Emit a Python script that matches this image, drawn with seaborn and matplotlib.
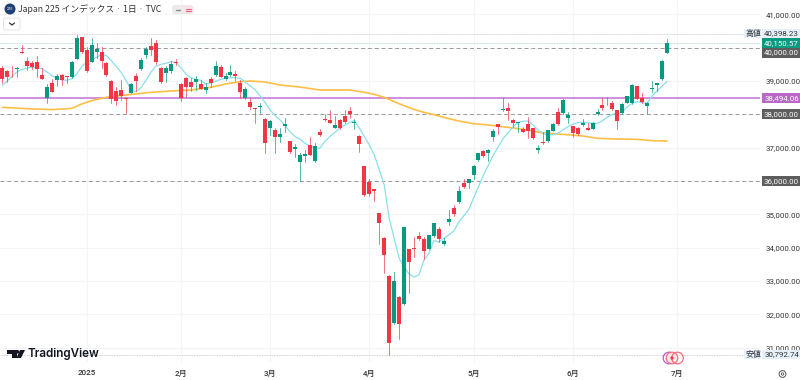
import numpy as np, pandas as pd
import matplotlib
matplotlib.use("Agg")
import matplotlib.pyplot as plt
from matplotlib.patches import Circle, FancyBboxPatch, Polygon, Rectangle
import seaborn as sns

opens = [39380,39310,39400,39360,39860,39610,39550,39580,39170,38500,38930,39030,39180,39150,39120,39660,40310,39930,39570,39870,39880,39550,39010,38710,38730,38480,38650,39160,39350,39790,40050,40130,39400,39250,39290,39570,38910,39080,38980,38970,38910,38720,39050,39190,39410,39070,39170,39210,38940,38490,38370,38180,38210,
37860,37590,37530,37320,37640,37190,36960,36570,36760,37070,36590,37460,37860,37840,37600,37830,37940,38100,37750,37350,36440,35960,35750,35030,34290,33150,31730,32530,32310,33950,34000,34350,34250,33970,34350,34560,34100,34770,35190,35370,35950,35930,
36190,36620,36900,36850,37310,37700,38130,38190,37830,37730,37560,37710,37580,36940,37170,37200,37510,38080,38040,37900,37640,37600,37680,37580,37570,38010,38280,38440,38330,38120,38040,38350,38340,38850,38480,38250,38770,38890,39050,39850]
highs = [39460,39330,39460,39430,40080,39730,39610,39760,39380,38910,39050,39210,39210,39160,39600,40380,40310,40030,40280,40130,40030,39580,39030,38810,39030,38480,38930,39230,39680,40030,40280,40230,39430,39450,39600,39650,38930,39130,39080,39150,39030,38930,39110,39590,39480,39230,39490,39310,39030,38810,38480,38180,38350,
37900,37830,37580,37580,37880,37210,37100,36830,36930,37310,37130,37550,38010,38130,37950,37850,38130,38210,37850,37380,36450,36050,35770,35050,34310,33170,33260,32550,34630,33970,34310,34460,34330,34390,34750,34610,34280,35130,35270,35850,36070,36070,
36480,36850,36930,36960,37550,37710,38480,38330,37850,37780,37610,37910,37600,37080,37460,37540,37750,38180,38450,38080,37660,37610,37850,37730,37760,38160,38480,38530,38410,38130,38340,38560,38900,38860,38630,38360,39000,38950,39620,40250]
lows = [38950,38980,39110,39110,39830,39330,39360,39110,39060,38350,38660,38850,38880,38930,39100,39650,39850,39280,39560,39680,39380,39150,38330,38280,38430,38050,38630,38710,39330,39680,39780,39510,38950,38980,39250,39480,38400,38530,38710,38730,38750,38630,38810,39150,39110,39030,39150,39000,38480,38470,38150,37750,38050,
36830,37380,36830,37180,37480,36830,36730,36000,36580,36780,36580,37360,37800,37730,37580,37570,37730,37880,37570,36860,35550,35550,35410,34110,33250,30790,31710,31260,32290,32630,33710,34230,33650,33950,34330,34180,34080,34680,34960,35350,35780,35790,
36050,36600,36730,36600,37210,37410,38110,37830,37630,37480,37460,37280,37260,36850,37110,37180,37490,37680,38020,37730,37330,37380,37650,37520,37550,37990,38130,38280,38130,37550,38020,38330,38320,38450,38350,38010,38670,38710,39030,39830]
closes = [39060,39130,39380,39390,39830,39450,39430,39350,39070,38810,38680,39150,39030,39120,39560,40280,39880,39290,40070,39960,39590,39170,38450,38410,38550,38460,38910,39010,39630,39950,39930,39560,38980,39400,39510,39550,38490,38810,38810,39060,38770,38810,38950,39450,39130,39150,39270,39150,38670,38770,38230,38160,38240,
37150,37790,37320,37410,37700,36870,37020,36780,36810,36790,37050,37380,37830,37740,37670,37580,37760,38000,37780,37100,35580,35600,35710,34730,33770,31130,33010,31710,34610,33570,33970,34260,33900,34370,34730,34270,34210,34850,35020,35690,35820,36050,
36450,36830,36760,36930,37490,37630,38160,38100,37730,37760,37480,37510,37280,36990,37150,37520,37710,37700,38430,37970,37440,37420,37740,37530,37740,38080,38190,38420,38150,37810,38320,38540,38880,38470,38370,38340,38800,38930,39590,40140]

fast_ma = [38870,39000,39150,39280,39350,39390,39420,39400,39370,39270,39160,39080,39030,39020,39070,39210,39430,39570,39650,39710,39800,39760,39600,39430,39250,39000,38730,38680,38810,39030,39270,39450,39500,39530,39580,39560,39400,39210,39100,39050,39020,38910,38940,38990,39050,39080,39100,39100,39080,38960,38850,38730,38550,38350,
38130,37960,37830,37660,37480,37330,37260,37130,37060,36980,36980,37180,37330,37450,37580,37670,37760,37810,37580,37330,37080,36780,36330,35880,34880,34280,33680,33430,33210,33120,33180,33630,33830,34210,34170,34280,34380,34500,34760,34950,35130,35480,
35830,36180,36480,36780,37030,37280,37450,37630,37760,37790,37800,37680,37530,37430,37380,37390,37430,37530,37630,37700,37750,37760,37750,37730,37730,37810,37920,38000,38030,38070,38230,38330,38380,38350,38330,38550,38700,38850,38980]
slow_idx = [0,5,10,14,16,18,20,22,25,28,30,34,38,42,45,48,50,53,56,60,64,70,73,75,77,79,81,83,85,87,89,92,95,98,102,106,109,113,117,120,124,128,131,134]
slow_ma = [38210,38170,38140,38180,38310,38410,38480,38540,38580,38630,38660,38700,38730,38810,38910,38980,39000,38970,38880,38820,38730,38730,38660,38600,38510,38380,38260,38150,38060,37990,37910,37800,37720,37680,37610,37530,37440,37400,37350,37280,37260,37250,37210,37200]

price_ticks = [41000,40000,39000,38000,37000,36000,35000,34000,33000,32000,31000]
price_tick_labels = ["41,000.00","","39,000.00","","37,000.00","","35,000.00","34,000.00","33,000.00","32,000.00","31,000.00"]
month_idx = [17,36,54,74,95,115,136]
month_labels = ["2025","2月","3月","4月","5月","6月","7月"]
drawn_levels = [40000,38000,36000]
pink_level = 38494.06
high_level = 40398.23
low_level = 30792.74
last_price = 40150.57

UP, DOWN = "#089981", "#F23645"
GRID = "#F3F4F6"
JP = ["Roboto", "Noto Sans CJK JP", "DejaVu Sans"]

sns.set_theme(style="white")
plt.rcParams["font.family"] = JP

W, H = 800, 380
PW, PH = 760, 362
fig = plt.figure(figsize=(W/100, H/100), dpi=100, facecolor="white")
ax = fig.add_axes([0, 1-PH/H, PW/W, PH/H])

n = len(closes)
idx = np.arange(n)
direction = np.where(np.array(closes) >= np.array(opens), "up", "down")
pal = {"up": UP, "down": DOWN}

wicks = pd.DataFrame({"i": np.r_[idx, idx], "p": np.r_[highs, lows], "d": np.r_[direction, direction]})
bodies = pd.DataFrame({"i": np.r_[idx, idx], "p": np.r_[opens, closes], "d": np.r_[direction, direction]})

ax.grid(True, color=GRID, lw=0.8)
ax.set_axisbelow(True)

for lvl in drawn_levels:
    ax.axhline(lvl, color="#9A9A9A", lw=0.7, ls=(0, (4, 3)), zorder=1.5)
ax.axhline(high_level, color="#C4C4C4", lw=0.6, ls=(0, (1, 1)), zorder=1.5)
ax.axhline(low_level, color="#C4C4C4", lw=0.6, ls=(0, (1, 1)), zorder=1.5)
ax.axhline(last_price, color="#9AD8CB", lw=0.6, ls=(0, (1, 1)), zorder=1.5)
ax.axhline(pink_level, color="#C77DD6", lw=1.2, zorder=1.6)

sns.lineplot(x=slow_idx, y=slow_ma, ax=ax, color="#FFBE45", lw=1.2, errorbar=None, zorder=2)
sns.lineplot(x=idx, y=fast_ma + [np.nan]*(n-len(fast_ma)), ax=ax, color="#8ADFEC", lw=0.9, errorbar=None, zorder=2.2)
sns.lineplot(data=wicks, x="i", y="p", hue="d", units="i", estimator=None, palette=pal, ax=ax,
             lw=0.7, alpha=0.7, legend=False, zorder=3)
sns.lineplot(data=bodies, x="i", y="p", hue="d", units="i", estimator=None, palette=pal, ax=ax,
             lw=2.9, legend=False, zorder=3.2, solid_capstyle="butt")

# px = x0 + 4.96*i ; price = 41430 - 30*y_px
ax.set_xlim((0-2.33)/4.96, (PW-2.33)/4.96)
ax.set_ylim(41430-30*PH, 41430)
ax.set_xlabel(""); ax.set_ylabel("")
ax.set_xticks(month_idx, month_labels, fontsize=5.8, color="#333333", fontweight="medium")
ax.yaxis.tick_right()
ax.set_yticks(price_ticks, price_tick_labels, fontsize=5.7, color="#333333")
ax.tick_params(axis="x", length=0, pad=6)
ax.tick_params(axis="y", length=0, pad=4)
sns.despine(ax=ax, left=True, bottom=True, right=True, top=True)

# overlay in pixel coordinates for the chart's chrome
ov = fig.add_axes([0, 0, 1, 1], facecolor="none", zorder=10)
ov.set_xlim(0, W); ov.set_ylim(H, 0); ov.axis("off")

def tag(y, txt, bg, fg="white", x0=762, x1=800, h=10):
    ov.add_patch(Rectangle((x0, y-h/2), x1-x0, h, color=bg, lw=0))
    ov.text((x0+x1)/2+0.5, y, txt, color=fg, fontsize=5.7, ha="center", va="center")

tag(33, "40,398.23", "#E6F0FB", "#333333", h=9)
tag(33, "高値", "#E6F0FB", "#333333", x0=744, x1=761, h=9)
tag(43, "40,150.57", UP)
tag(52.5, "40,000.00", "#5D5D5D")
tag(98, "38,494.06", "#BA68C8")
tag(114, "38,000.00", "#5D5D5D")
tag(181, "36,000.00", "#5D5D5D")
tag(354, "30,792.74", "#E6F0FB", "#333333", h=9)
tag(354, "安値", "#E6F0FB", "#333333", x0=744, x1=761, h=9)

# header
ov.add_patch(Circle((10, 9), 5.5, color="#1F3F77", lw=0))
ov.text(10, 9, "225", color="white", fontsize=2.8, ha="center", va="center")
ov.text(18.5, 9.5, "Japan 225 インデックス · 1日 · TVC", fontsize=6.3, color="#333333", va="center",
        family=["Noto Sans CJK JP", "DejaVu Sans"])
ov.add_patch(FancyBboxPatch((172, 5), 22, 9, boxstyle="round,pad=0,rounding_size=4", fc="#F7E3EA", ec="none"))
ov.add_patch(FancyBboxPatch((172, 5), 11, 9, boxstyle="round,pad=0,rounding_size=4", fc="#EBEBEB", ec="none"))
ov.plot([175.5, 180], [9.5, 9.5], color="#888888", lw=1)
ov.plot([186, 190.5], [8.5, 8.5], color="#E0607A", lw=0.8)
ov.plot([186, 190.5], [10.5, 10.5], color="#E0607A", lw=0.8)
ov.add_patch(FancyBboxPatch((3.5, 18), 16.5, 12, boxstyle="round,pad=0,rounding_size=2", fc="white", ec="#E3E3E3", lw=0.7))
ov.plot([9.5, 12, 14.5], [23, 25, 23], color="#333333", lw=0.9)

# logo
ov.add_patch(Polygon([(7, 350), (16.5, 350), (16.5, 358), (12, 358), (12, 354), (7, 354)], color="#131722", lw=0))
ov.add_patch(Circle((17.5, 351.8), 1.8, color="#131722", lw=0))
ov.add_patch(Polygon([(20, 350), (25, 350), (21, 358), (16.5, 358)], color="#131722", lw=0))
ov.text(28, 354, "TradingView", fontsize=8.4, fontweight="semibold", color="#131722", va="center", family="Inter")

# bottom markers
ov.add_patch(Circle((669, 358), 5.8, fc="none", ec="#B45CD0", lw=0.9))
ov.add_patch(Circle((672, 358), 5.8, fc="#FDE6EA", ec="#F2707F", lw=0.9))
ov.add_patch(Circle((677.5, 358), 5.8, fc="none", ec="#F2707F", lw=0.9))
ov.add_patch(Circle((672, 358), 1.6, fc=DOWN, lw=0))
ov.add_patch(Circle((782.5, 374), 3.4, fc="none", ec="#555555", lw=0.7))
ov.add_patch(Circle((782.5, 374), 1.2, fc="none", ec="#555555", lw=0.6))

fig.savefig("out.png", dpi=100)
